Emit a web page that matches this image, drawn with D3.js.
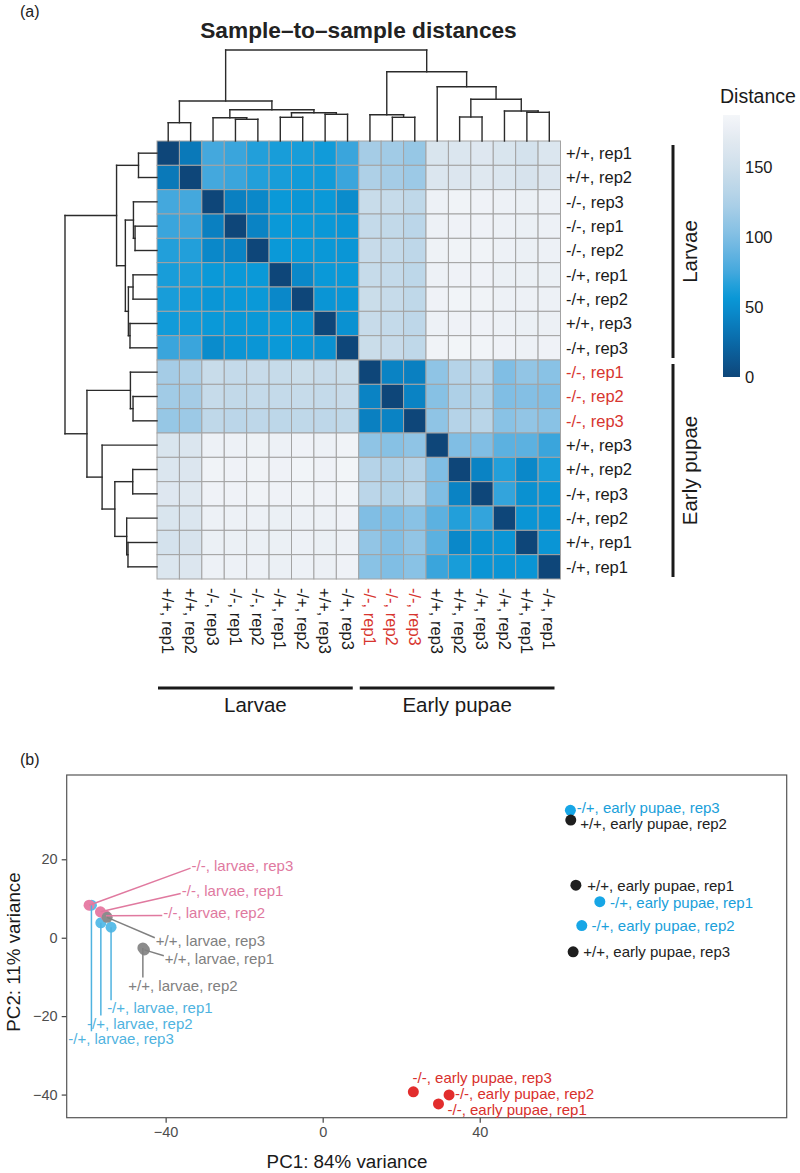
<!DOCTYPE html>
<html><head><meta charset="utf-8">
<script src="https://cdn.jsdelivr.net/npm/d3@7"></script>
<style>
body{margin:0;background:#fff;}
svg{display:block;font-family:"Liberation Sans",Arial,Helvetica,sans-serif;}
</style></head><body>
<svg id="c" width="800" height="1173"></svg>
<script>
// ---------------- DATA ----------------
const samples = ["+/+, rep1","+/+, rep2","-/-, rep3","-/-, rep1","-/-, rep2","-/+, rep1","-/+, rep2","+/+, rep3","-/+, rep3",
                 "-/-, rep1","-/-, rep2","-/-, rep3","+/+, rep3","+/+, rep2","-/+, rep3","-/+, rep2","+/+, rep1","-/+, rep1"];
const highlightedSamples = [9, 10, 11];
const stageGroups = ["Larvae", "Early pupae"];
const stageStart = [0, 9];
const stageEnd = [8, 17];
const distances = [
 [0,35,75,72,65,62,62,60,72, 120,118,112,160,162,165,160,155,162],
 [35,0,75,72,65,62,60,60,72, 125,120,115,162,163,166,162,158,163],
 [75,75,0,40,45,58,56,58,48, 145,143,138,180,183,182,180,178,180],
 [72,72,40,0,42,58,58,57,55, 142,140,135,180,182,182,180,178,180],
 [65,65,45,42,0,58,58,57,56, 144,142,137,181,183,183,180,178,180],
 [62,62,58,58,58,0,45,58,58, 143,142,136,180,182,182,178,178,178],
 [62,60,56,58,58,45,0,55,56, 146,143,138,182,184,183,180,180,180],
 [60,60,58,57,57,58,55,0,52, 144,142,137,180,182,182,180,178,179],
 [72,72,48,55,56,58,56,52,0, 146,144,138,183,185,184,182,180,182],
 [120,125,145,142,144,143,146,144,146, 0,42,40,108,130,135,100,110,105],
 [118,120,143,140,142,142,143,142,144, 42,0,42,104,125,128,100,102,100],
 [112,115,138,135,137,136,138,137,138, 40,42,0,108,130,133,105,110,105],
 [160,162,180,180,181,180,182,180,183, 108,104,108,0,100,100,85,85,72],
 [162,163,183,182,183,182,184,182,185, 130,125,130,100,0,42,65,45,62],
 [165,166,182,182,183,182,183,182,184, 135,128,133,100,42,0,70,52,55],
 [160,162,180,180,180,178,180,180,182, 100,100,105,85,65,70,0,55,55],
 [155,158,178,178,178,178,180,178,180, 110,102,110,85,45,52,55,0,55],
 [162,163,180,180,180,178,180,179,182, 105,100,105,72,62,55,55,55,0]
];
// hclust-style merges (negative = leaf index, 1-based; positive = earlier merge)
const dendroMerge = [[-1,-2],[-4,-5],[-3,2],[-6,-7],[-8,-9],[4,5],[3,6],[1,7],
                     [-11,-12],[-10,9],[-14,-15],[-17,-18],[-16,12],[11,13],[-13,14],[10,15],[8,16]];
const dendroHeight = [36.6,43.4,46.6,47.4,53.4,56.6,62.6,80,47.4,52.6,48,57.4,60,83.4,108.6,138.6,182];
const legendTicks = [0, 50, 100, 150];
const distanceMax = 187;
const colorStops = [0, 25, 45, 58, 75, 100, 125, 150, 170, 187];
const colorValues = ["#0e4679","#0a69a8","#0a88c9","#0a99d8","#44a8dd","#80bee4","#aed0e7","#cfdfeb","#e3eaf1","#f4f6f9"];

// PCA (drawing order)
const pcaLabels = ["-/+, larvae, rep1","-/+, larvae, rep2","-/+, larvae, rep3",
  "-/-, larvae, rep3","-/-, larvae, rep1","-/-, larvae, rep2",
  "+/+, larvae, rep3","+/+, larvae, rep1","+/+, larvae, rep2",
  "-/+, early pupae, rep3","+/+, early pupae, rep2","+/+, early pupae, rep1","-/+, early pupae, rep1","-/+, early pupae, rep2","+/+, early pupae, rep3",
  "-/-, early pupae, rep3","-/-, early pupae, rep2","-/-, early pupae, rep1"];
const pcaGroups = ["L-/+","L-/+","L-/+","L-/-","L-/-","L-/-","L+/+","L+/+","L+/+",
  "P-/+","P+/+","P+/+","P-/+","P-/+","P+/+","P-/-","P-/-","P-/-"];
const pc1 = [-53.9,-56.5,-58.9, -59.5,-56.6,-55.2, -54.9,-45.4,-45.8, 63.1,63.2,64.5,70.6,66.0,63.8, 23.1,32.2,29.5];
const pc2 = [2.7,3.8,8.3, 8.3,6.6,5.6, 5.2,-3.1,-2.6, 32.5,30.0,13.4,9.2,3.1,-3.6, -39.3,-40.1,-42.4];
const labelPc1 = [-54.9,-60.0,-64.8, -33.4,-35.9,-40.6, -42.5,-40.2,-49.5, 64.7,65.6,67.4,73.2,68.5,66.4, 22.9,33.7,31.8];
const labelPc2 = [-17.9,-21.8,-25.8, 18.5,12.0,6.4, -0.8,-5.4,-12.1, 33.2,29.2,13.4,9.0,3.1,-3.6, -35.8,-39.7,-43.8];
const groupNames = ["L-/+","L-/-","L+/+","P+/+","P-/+","P-/-"];
const groupPointColors = ["#5bbde8","#e77fa6","#8c8c8c","#1e1e1e","#17a6e6","#e22d2d"];
const groupTextColors = ["#4fb3e0","#e0799f","#808080","#222222","#1aa0da","#d8302c"];
const pcaXTicks = [-40, 0, 40];
const pcaYTicks = [-40, -20, 0, 20];

// ---------------- DRAW ----------------
const svg = d3.select("#c");

// (a)
svg.append("text").attr("x",20).attr("y",17).attr("font-size",16).attr("fill","#222").text("(a)");
svg.append("text").attr("x",358.5).attr("y",38).attr("text-anchor","middle").attr("font-size",22.7)
  .attr("font-weight","bold").attr("fill","#222").text("Sample\u2013to\u2013sample distances");

const hm = {left:157, right:560.5, top:141, bottom:579};
const xb = d3.scaleBand().domain(d3.range(samples.length)).range([hm.left, hm.right]);
const yb = d3.scaleBand().domain(d3.range(samples.length)).range([hm.top, hm.bottom]);
const color = d3.scaleLinear().domain(colorStops).range(colorValues).clamp(true);

const cells = [];
distances.forEach((row,i)=>row.forEach((v,j)=>cells.push({i,j,v})));
svg.append("g").selectAll("rect").data(cells).join("rect")
  .attr("x",d=>xb(d.j)).attr("y",d=>yb(d.i))
  .attr("width",xb.bandwidth()).attr("height",yb.bandwidth())
  .attr("fill",d=>color(d.v)).attr("stroke","#a3a3a3").attr("stroke-width",1);

// dendrograms
const hTop = d3.scaleLinear().domain([0, dendroHeight[dendroHeight.length-1]]).range([hm.top, 50]);
const hLeft = d3.scaleLinear().domain([0, dendroHeight[dendroHeight.length-1]]).range([hm.left, 65]);
function nodeInfo(k){
  if(k<0) return {idx:-k-1, h:0, leaf:true};
  const m = dendroMerge[k-1];
  const a = nodeInfo(m[0]), b = nodeInfo(m[1]);
  return {h:dendroHeight[k-1], a, b};
}
function center(n, band){ return n.leaf ? band(n.idx)+band.bandwidth()/2 : (center(n.a,band)+center(n.b,band))/2; }
const root = nodeInfo(dendroMerge.length);
const segsTop = [], segsLeft = [];
(function walk(n){
  if(n.leaf) return;
  const ca = center(n.a,xb), cb = center(n.b,xb);
  segsTop.push([ca,hTop(n.a.h),ca,hTop(n.h)],[ca,hTop(n.h),cb,hTop(n.h)],[cb,hTop(n.h),cb,hTop(n.b.h)]);
  const ra = center(n.a,yb), rb = center(n.b,yb);
  segsLeft.push([hLeft(n.a.h),ra,hLeft(n.h),ra],[hLeft(n.h),ra,hLeft(n.h),rb],[hLeft(n.h),rb,hLeft(n.b.h),rb]);
  walk(n.a); walk(n.b);
})(root);
svg.append("g").selectAll("line").data(segsTop.concat(segsLeft)).join("line")
  .attr("x1",d=>d[0]).attr("y1",d=>d[1]).attr("x2",d=>d[2]).attr("y2",d=>d[3])
  .attr("stroke","#2b2b2b").attr("stroke-width",1.4).attr("stroke-linecap","square");

// row labels
const labColor = i => highlightedSamples.includes(i) ? "#d7352f" : "#1a1a1a";
svg.append("g").selectAll("text").data(samples).join("text")
  .attr("x",566).attr("y",(d,i)=>yb(i)+yb.bandwidth()/2).attr("dy","0.36em")
  .attr("font-size",16.5).attr("fill",(d,i)=>labColor(i)).text(d=>d);
// column labels
svg.append("g").selectAll("text").data(samples).join("text")
  .attr("transform",(d,i)=>`translate(${xb(i)+xb.bandwidth()/2},588) rotate(90)`).attr("dy","0.36em")
  .attr("font-size",16.5).attr("fill",(d,i)=>labColor(i)).text(d=>d);

// group bars
stageGroups.forEach((g,k)=>{
  const y0 = yb(stageStart[k])+4, y1 = yb(stageEnd[k])+yb.bandwidth()-2;
  svg.append("line").attr("x1",673).attr("x2",673).attr("y1",y0).attr("y2",y1).attr("stroke","#1a1a1a").attr("stroke-width",3);
  svg.append("text").attr("transform",`translate(697,${(y0+y1)/2}) rotate(-90)`).attr("text-anchor","middle")
    .attr("font-size",20.5).attr("fill","#1a1a1a").text(g);
  const x0 = xb(stageStart[k])+1, x1 = xb(stageEnd[k])+xb.bandwidth()-6;
  svg.append("line").attr("x1",x0).attr("x2",x1).attr("y1",688).attr("y2",688).attr("stroke","#1a1a1a").attr("stroke-width",3);
  svg.append("text").attr("x",(x0+x1)/2).attr("y",712).attr("text-anchor","middle")
    .attr("font-size",20.5).attr("fill","#1a1a1a").text(g);
});

// legend
const legScale = d3.scaleLinear().domain([0, distanceMax]).range([377, 115]);
const grad = svg.append("defs").append("linearGradient").attr("id","lg").attr("x1",0).attr("x2",0).attr("y1",1).attr("y2",0);
d3.range(0, 1.0001, 0.05).forEach(t=>grad.append("stop").attr("offset",t).attr("stop-color",color(t*distanceMax)));
svg.append("rect").attr("x",723).attr("y",115).attr("width",17).attr("height",262).attr("fill","url(#lg)");
svg.append("g").selectAll("text").data(legendTicks).join("text")
  .attr("x",745).attr("y",d=>legScale(d)).attr("dy","0.36em").attr("font-size",16.5).attr("fill","#1a1a1a").text(d=>d);
svg.append("text").attr("x",720).attr("y",103).attr("font-size",19.5).attr("fill","#1a1a1a").text("Distance");

// (b) PCA
svg.append("text").attr("x",20).attr("y",765).attr("font-size",16).attr("fill","#222").text("(b)");
const pb = {left:66.7, right:786.7, top:775, bottom:1117.7};
const px = d3.scaleLinear().domain([-65.2, 118.2]).range([pb.left, pb.right]);
const py = d3.scaleLinear().domain([-45.9, 41.5]).range([pb.bottom, pb.top]);
const xAx = svg.append("g").attr("transform",`translate(0,${pb.bottom})`)
  .call(d3.axisBottom(px).tickValues(pcaXTicks).tickSize(5).tickPadding(4).tickFormat(d3.format("d")));
const yAx = svg.append("g").attr("transform",`translate(${pb.left},0)`)
  .call(d3.axisLeft(py).tickValues(pcaYTicks).tickSize(5).tickPadding(4).tickFormat(d3.format("d")));
[xAx,yAx].forEach(a=>{
  a.select(".domain").remove();
  a.selectAll("line").attr("stroke","#333").attr("stroke-width",1.1);
  a.selectAll("text").attr("font-size",14.5).attr("fill","#4d4d4d").attr("font-family","Liberation Sans, Arial, sans-serif");
});
svg.append("rect").attr("x",pb.left).attr("y",pb.top).attr("width",pb.right-pb.left).attr("height",pb.bottom-pb.top)
  .attr("fill","none").attr("stroke","#555").attr("stroke-width",1.2);
svg.append("text").attr("x",347).attr("y",1168).attr("text-anchor","middle").attr("font-size",18.8).attr("fill","#1a1a1a").text("PC1: 84% variance");
svg.append("text").attr("transform",`translate(20,952) rotate(-90)`).attr("text-anchor","middle").attr("font-size",18.8).attr("fill","#1a1a1a").text("PC2: 11% variance");

const gIdx = g => groupNames.indexOf(g);
const pts = pcaLabels.map((l,i)=>({l, g:pcaGroups[i], x:px(pc1[i]), y:py(pc2[i]), lx:px(labelPc1[i]), ly:py(labelPc2[i])}));
svg.append("g").selectAll("circle").data(pts).join("circle")
  .attr("cx",d=>d.x).attr("cy",d=>d.y).attr("r",5.5).attr("fill",d=>groupPointColors[gIdx(d.g)]);
const segG = svg.append("g");
const txt = svg.append("g").selectAll("text").data(pts).join("text")
  .attr("x",d=>d.lx).attr("y",d=>d.ly).attr("dy","0.36em").attr("font-size",15)
  .attr("fill",d=>groupTextColors[gIdx(d.g)]).text(d=>d.l);
txt.each(function(d){
  const b = this.getBBox();
  let ex, ey;
  const cy = b.y + b.height/2;
  if(d.x < b.x){ ex = b.x - 1; ey = Math.max(cy-3, Math.min(cy+3, d.y)); }
  else if(d.x > b.x+b.width){ ex = b.x+b.width+1; ey = Math.max(cy-3, Math.min(cy+3, d.y)); }
  else { ex = d.x; ey = d.y < b.y ? b.y+1 : b.y+b.height-1; }
  const len = Math.hypot(ex-d.x, ey-d.y);
  if(len > 12){
    segG.append("line").attr("x1",d.x).attr("y1",d.y).attr("x2",ex).attr("y2",ey)
      .attr("stroke",groupTextColors[gIdx(d.g)]).attr("stroke-width",1.5);
  }
});
</script></body></html>
